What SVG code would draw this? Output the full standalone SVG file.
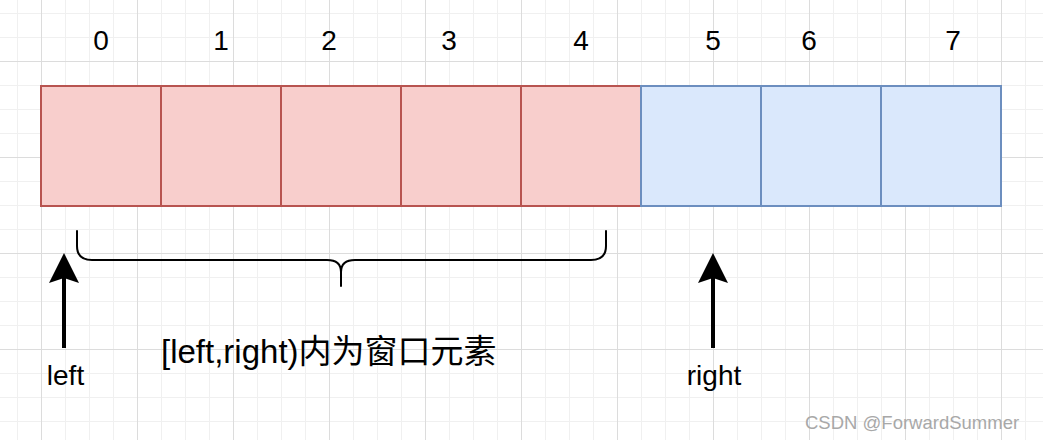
<svg xmlns="http://www.w3.org/2000/svg" width="1043" height="440" viewBox="0 0 1043 440">
  <style>
    .lbl { font-family: "Liberation Sans", Arial, Helvetica, sans-serif; font-size: 28px; fill: #000; text-anchor: middle; }
    .cap { font-family: "Liberation Sans", Arial, "Noto Sans CJK SC", sans-serif; font-size: 33px; fill: #000; }
    .red { fill: #f8cecc; stroke: #b85450; stroke-width: 2; }
    .blue { fill: #dae8fc; stroke: #6c8ebf; stroke-width: 2; }
    .ptr { stroke: #000; stroke-width: 4; fill: none; }
    .brace { stroke: #000; stroke-width: 2; fill: none; stroke-linecap: round; }
    .wm { font-family: "Liberation Sans", Arial, sans-serif; font-size: 18.5px; fill: #a8a8a8; }
  </style>
  <defs>
    <pattern id="grid" patternUnits="userSpaceOnUse" x="41" y="61" width="96" height="96">
      <rect x="24" y="0" width="1" height="96" fill="#f0f0f0"/>
      <rect x="48" y="0" width="1" height="96" fill="#f0f0f0"/>
      <rect x="72" y="0" width="1" height="96" fill="#f0f0f0"/>
      <rect x="0" y="24" width="96" height="1" fill="#f0f0f0"/>
      <rect x="0" y="48" width="96" height="1" fill="#f0f0f0"/>
      <rect x="0" y="72" width="96" height="1" fill="#f0f0f0"/>
      <rect x="0" y="0" width="1" height="96" fill="#dcdcdc"/>
      <rect x="0" y="0" width="96" height="1" fill="#dcdcdc"/>
    </pattern>
    <marker id="arrow" markerUnits="userSpaceOnUse" markerWidth="30" markerHeight="30" viewBox="0 0 30 30" refX="5" refY="15" orient="auto">
      <path d="M0,0 L30,15 L0,30 L5,15 Z" fill="#000"/>
    </marker>
  </defs>
  <rect x="0" y="0" width="1043" height="440" fill="#ffffff"/>
  <rect x="0" y="0" width="1043" height="440" fill="url(#grid)"/>

  <g id="index-labels">
    <text class="lbl" x="101" y="50">0</text>
    <text class="lbl" x="221" y="50">1</text>
    <text class="lbl" x="329" y="50">2</text>
    <text class="lbl" x="449" y="50">3</text>
    <text class="lbl" x="581" y="50">4</text>
    <text class="lbl" x="713" y="50">5</text>
    <text class="lbl" x="809" y="50">6</text>
    <text class="lbl" x="953" y="50">7</text>
  </g>

  <g id="cell-0"><rect class="red" x="41" y="86" width="120" height="120"/></g>
  <g id="cell-1"><rect class="red" x="161" y="86" width="120" height="120"/></g>
  <g id="cell-2"><rect class="red" x="281" y="86" width="120" height="120"/></g>
  <g id="cell-3"><rect class="red" x="401" y="86" width="120" height="120"/></g>
  <g id="cell-4"><rect class="red" x="521" y="86" width="120" height="120"/></g>
  <g id="cell-5"><rect class="blue" x="641" y="86" width="120" height="120"/></g>
  <g id="cell-6"><rect class="blue" x="761" y="86" width="120" height="120"/></g>
  <g id="cell-7"><rect class="blue" x="881" y="86" width="120" height="120"/></g>

  <g id="window-brace">
    <path class="brace" d="M77,231 L77,246 Q77,260 92,260 L327,260 Q341,260 341,272 L341,286 M341,272 Q341,260 355,260 L591,260 Q606,260 606,246 L606,231"/>
  </g>

  <g id="connectors">
    <line class="ptr" x1="64" y1="348" x2="64" y2="278" marker-end="url(#arrow)"/>
    <line class="ptr" x1="713" y1="348" x2="713" y2="278" marker-end="url(#arrow)"/>
  </g>

  <g id="left-label"><text class="lbl" x="65.5" y="385">left</text></g>
  <g id="right-label"><text class="lbl" x="714" y="385">right</text></g>
  <g id="window-label"><text class="cap" x="161" y="363">[left,right)内为窗口元素</text></g>

  <text class="wm" x="805" y="429">CSDN @ForwardSummer</text>
</svg>
